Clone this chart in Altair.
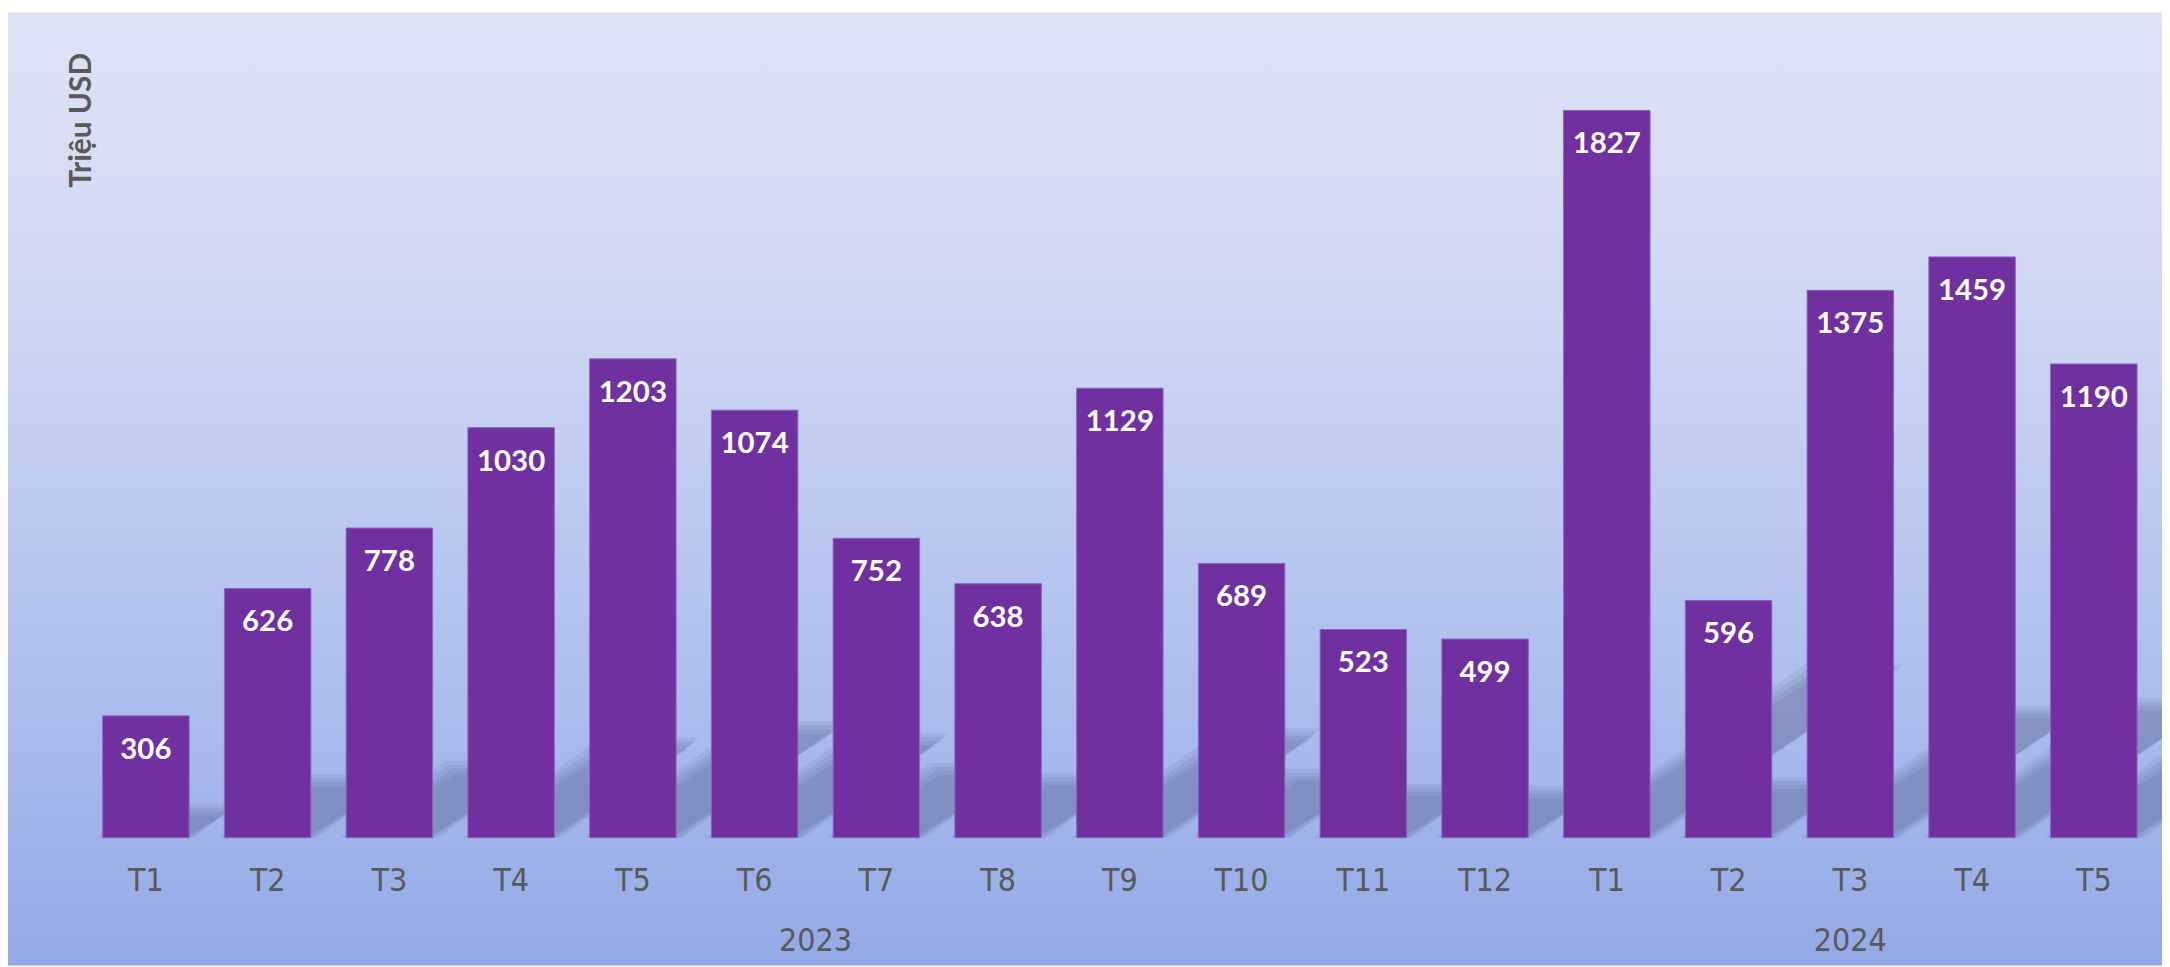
import altair as alt
import pandas as pd

# ---- data ----
months = ["T1", "T2", "T3", "T4", "T5", "T6", "T7", "T8", "T9", "T10", "T11", "T12",
          "T1", "T2", "T3", "T4", "T5"]
years = ["2023"] * 12 + ["2024"] * 5
values = [306, 626, 778, 1030, 1203, 1074, 752, 638, 1129, 689, 523, 499,
          1827, 596, 1375, 1459, 1190]
unit_title = "Triệu USD"

# ---- layout / style ----
W, H = 2162, 956
XDOM = [-1.1326, 16.56]
YDOM = [-320.4, 2072.3]
PX_X = W / (XDOM[1] - XDOM[0])      # px per index unit
PX_Y = H / (YDOM[1] - YDOM[0])      # px per value unit
HALF = 0.355            # half bar width in index units
SHADOW_KX = 0.34        # shadow shear (px right per px of bar height)
SHADOW_KY = 0.23        # shadow height relative to bar height
BAR = "#7030a0"
GREY = "#595959"

df = pd.DataFrame({"idx": list(range(len(values))), "month": months,
                   "year": years, "value": values})

# soft shadow: several stacked translucent parallelograms of growing spread
SPREADS = [-6, -2, 2, 6]
rows = []
for s_i, e in enumerate(SPREADS):
    ex = e / PX_X
    ey = e / PX_Y
    for i, v in enumerate(values):
        dx = v * PX_Y * SHADOW_KX / PX_X
        rows.append({"bar": f"{s_i}-{i}", "sy": 0.0,
                     "sa": i - HALF - ex, "sb": i + HALF + ex})
        rows.append({"bar": f"{s_i}-{i}", "sy": v * SHADOW_KY + ey,
                     "sa": i - HALF + dx - ex, "sb": i + HALF + dx + ex})
shadow_df = pd.DataFrame(rows)

xs = alt.Scale(domain=XDOM, nice=False, zero=False)
ys = alt.Scale(domain=YDOM, nice=False, zero=False)

gradient = {
    "gradient": "linear", "x1": 0, "y1": 0, "x2": 0, "y2": 1,
    "stops": [
        {"offset": 0.0, "color": "#dfe3f6"},
        {"offset": 0.3, "color": "#d0d7f3"},
        {"offset": 0.6, "color": "#b6c4ef"},
        {"offset": 0.85, "color": "#a1b4ea"},
        {"offset": 1.0, "color": "#93a9e6"},
    ],
}

bg = alt.Chart(pd.DataFrame({"a": [0]})).mark_rect(fill=gradient).encode(
    x=alt.value(0), x2=alt.value(W), y=alt.value(0), y2=alt.value(H)
)

shadow = alt.Chart(shadow_df).mark_area(
    orient="horizontal", interpolate="linear", color="#1a2348", opacity=0.068, clip=True
).encode(
    y=alt.Y("sy:Q", scale=ys, axis=None),
    x=alt.X("sa:Q", scale=xs, axis=None),
    x2="sb:Q",
    detail="bar:N",
)

bars = alt.Chart(df).transform_calculate(
    x0=f"datum.idx - {HALF}", x1=f"datum.idx + {HALF}"
).mark_bar(color=BAR, stroke="#8b63c2", strokeWidth=1).encode(
    x=alt.X("x0:Q", scale=xs, axis=None),
    x2="x1:Q",
    y=alt.Y("value:Q", scale=ys, axis=None),
    y2=alt.datum(0),
)

value_labels = alt.Chart(df).mark_text(
    font="Lato", fontWeight="bold", fontSize=29.5, color="white",
    baseline="alphabetic", align="center", dy=43
).encode(
    x=alt.X("idx:Q", scale=xs, axis=None),
    y=alt.Y("value:Q", scale=ys, axis=None),
    text="value:Q",
)

month_labels = alt.Chart(df).mark_text(
    font="DejaVu Sans Condensed, DejaVu Sans", fontSize=32, color=GREY,
    baseline="alphabetic", align="center"
).encode(
    x=alt.X("idx:Q", scale=xs, axis=None),
    y=alt.value(881),
    text="month:N",
)

year_labels = alt.Chart(df).transform_aggregate(
    cx="mean(idx)", groupby=["year"]
).mark_text(
    font="DejaVu Sans Condensed, DejaVu Sans", fontSize=32, color=GREY,
    baseline="alphabetic", align="center"
).encode(
    x=alt.X("cx:Q", scale=xs, axis=None),
    y=alt.value(942),
    text="year:N",
)

title = alt.Chart(pd.DataFrame({"t": [unit_title]})).mark_text(
    font="Lato", fontWeight="bold", fontSize=30, color=GREY, angle=270,
    baseline="alphabetic", align="center"
).encode(x=alt.value(83), y=alt.value(108), text="t:N")

chart = alt.layer(bg, shadow, bars, value_labels, month_labels, year_labels, title).properties(
    width=W, height=H, autosize="none",
    padding={"top": 3, "left": 0, "right": 0, "bottom": 0},
).configure_view(stroke="#d4d4d4", strokeWidth=1)

chart.save("out.html", embed_options={"renderer": "svg", "actions": False})
